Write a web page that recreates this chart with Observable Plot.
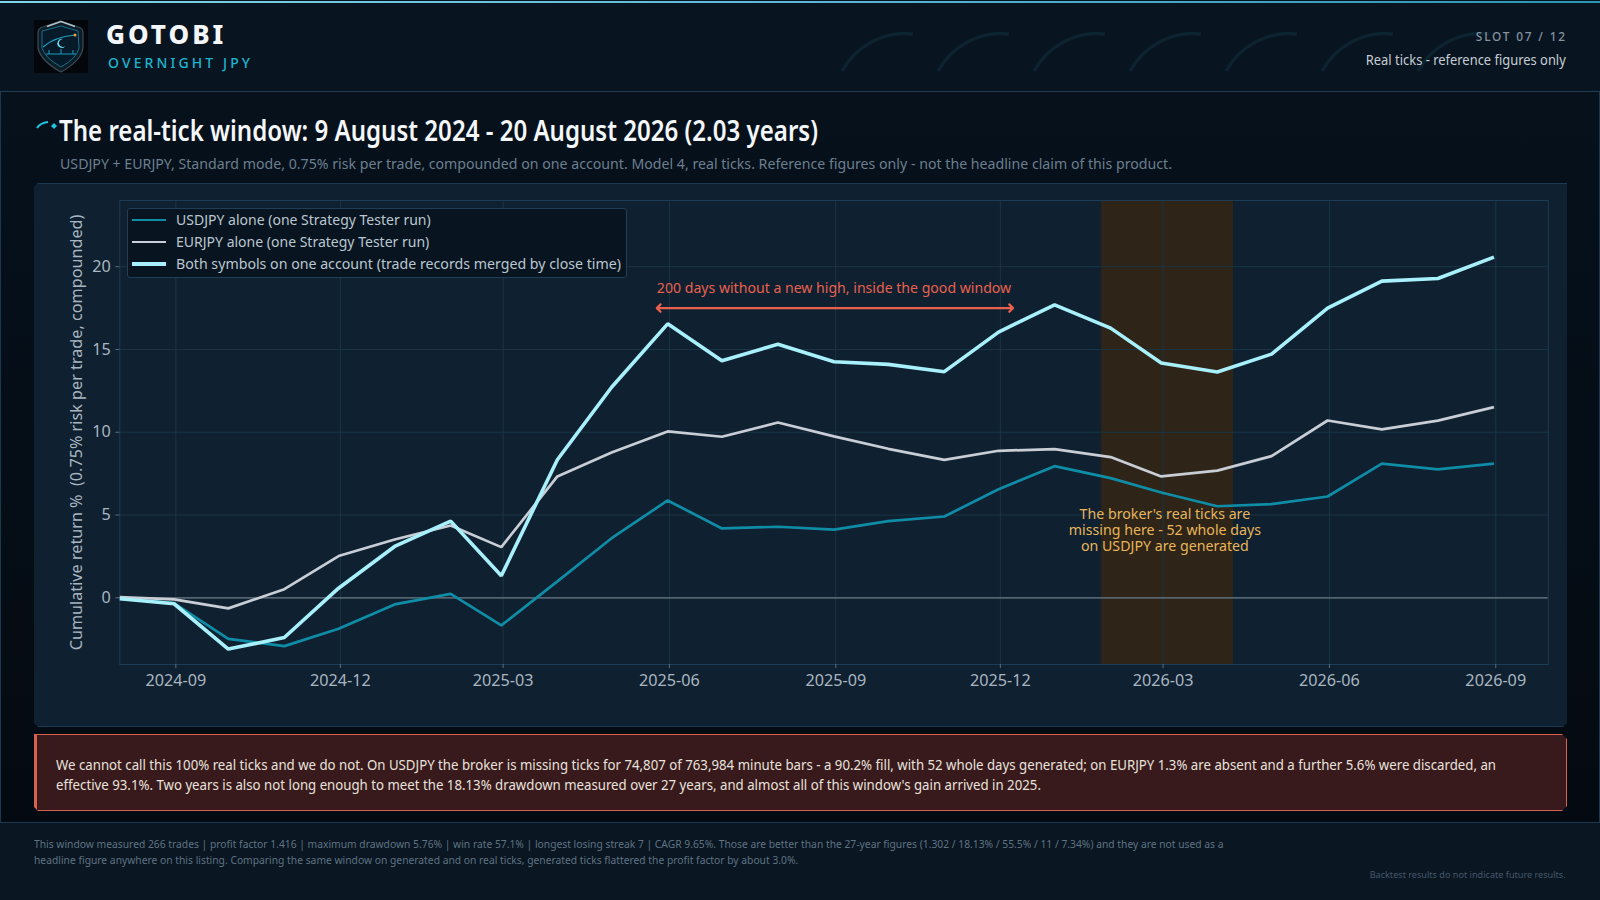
<!DOCTYPE html>
<html><head><meta charset="utf-8">
<script src="https://cdn.jsdelivr.net/npm/d3@7"></script>
<script src="https://cdn.jsdelivr.net/npm/@observablehq/plot@0.6"></script>
<style>
html,body{margin:0;padding:0;background:#0a1621;}
body{width:1600px;height:900px;position:relative;overflow:hidden;font-family:"Noto Sans",sans-serif;}
.a{position:absolute;white-space:nowrap;}
#chart{position:absolute;left:34px;top:183px;width:1533px;height:544px;}
#chart svg{display:block;background:transparent;}
.sw{position:absolute;left:3.5px;width:34px;}
.lt{position:absolute;left:47.5px;font-size:14.5px;color:#bac7d1;white-space:nowrap;line-height:20px;transform-origin:left center;}
</style></head><body>
<div class="a" style="left:0;top:0;width:1600px;height:91px;background:#08141f;border-bottom:1px solid #1f3d55;box-sizing:content-box"></div>
<div class="a" style="left:0;top:1px;width:1600px;height:2px;background:linear-gradient(90deg,#7fd6ea,#5cb8d6 50%,#2a95b5)"></div>
<div class="a" style="left:0;top:92px;width:1598px;height:730px;background:linear-gradient(180deg,#06111c,#040a11);border-left:1px solid #1c3850;border-right:1px solid #1c3850;border-bottom:1px solid #1c3850"></div>

<svg class="a" style="left:34px;top:20px" width="54" height="53" viewBox="0 0 54 53">
<rect width="54" height="53" fill="#03070c"/>
<path d="M27 1 L44 7 Q49 8 49 13 L49 28 Q47 41 27 52 Q7 41 4 28 L4 13 Q4 8 9 7 Z" fill="#0e1c26" stroke="#3a4c58" stroke-width="1.2"/>
<path d="M13 6.5 L27 1.5 L41 6.5" fill="none" stroke="#b4c2cb" stroke-width="1.4"/>
<path d="M27 6 L44 11 L45 28 Q43 38 27 47 Q11 38 8 28 L8 11 Z" fill="#071a2a" stroke="#14708a" stroke-width="1"/>
<path d="M9 27 Q20 17 41 15" fill="none" stroke="#1a9dbd" stroke-width="1.2"/>
<circle cx="41" cy="15" r="1.5" fill="#f0a040"/>
<path d="M29 19 a4.5 4.5 0 1 0 2.5 7 a4 4 0 1 1 -2.5 -7" fill="#6fe0f0"/>
<path d="M12 34 H42 M15 34 V30 M27 34 V29 M39 34 V30" stroke="#1a9dbd" stroke-width="1" fill="none"/>
</svg>
<div class="a" style="left:106px;top:17px;font-size:26px;font-weight:800;letter-spacing:3px;color:#f4f7f9;line-height:34px">GOTOBI</div>
<div class="a" style="left:108px;top:53px;font-size:14px;font-weight:500;letter-spacing:3.1px;color:#1cb5d0;line-height:20px">OVERNIGHT JPY</div>

<svg class="a" style="left:830px;top:25px" width="680" height="55" viewBox="0 0 680 55" fill="none" stroke="#0c2330" stroke-width="3.5">
<path d="M12 46 A72 72 0 0 1 83 9"/><path d="M108 46 A72 72 0 0 1 179 9"/><path d="M204 46 A72 72 0 0 1 275 9"/><path d="M300 46 A72 72 0 0 1 371 9"/><path d="M396 46 A72 72 0 0 1 467 9"/><path d="M492 46 A72 72 0 0 1 563 9"/><path d="M588 46 A72 72 0 0 1 659 9"/>
</svg>
<div class="a" data-fit="91" data-o="right" style="right:33px;top:27px;font-size:13px;font-weight:500;letter-spacing:2px;color:#8493a0;line-height:18px">SLOT 07 / 12</div>
<div class="a" data-fit="200" data-o="right" style="right:34px;top:50px;font-size:14px;color:#c5ced6;line-height:20px">Real ticks - reference figures only</div>

<svg class="a" style="left:35px;top:118px" width="24" height="16" viewBox="0 0 24 16" fill="none">
<path d="M2 10 Q5 5 13 4" stroke="#22c3de" stroke-width="2"/><path d="M19 5 L22 8 L19 11 L16 8 Z" fill="#22c3de"/>
</svg>
<div class="a" data-fit="759" style="left:59px;top:110px;font-size:29px;font-weight:600;color:#f4f7f9;line-height:40px">The real-tick window: 9 August 2024 - 20 August 2026 (2.03 years)</div>
<div class="a" data-fit="1112" style="left:60px;top:153px;font-size:14.5px;color:#6c7f8e;line-height:20px">USDJPY + EURJPY, Standard mode, 0.75% risk per trade, compounded on one account. Model 4, real ticks. Reference figures only - not the headline claim of this product.</div>

<div class="a" style="left:34px;top:183px;width:1533px;height:544px;background:#0f2030;box-sizing:border-box;border-top:1.5px solid #1b3a52;border-bottom:1.5px solid #1b3a52;clip-path:polygon(4px 0,100% 0,100% calc(100% - 4px),calc(100% - 4px) 100%,4px 100%,0 calc(100% - 4px),0 4px)"></div>
<div id="chart"></div>

<div class="a" style="left:127px;top:208px;width:500px;height:70px;box-sizing:border-box;background:#081420;border:1.5px solid #1f3e58;border-radius:3px">
 <div id="legend"></div>
</div>

<div class="a" style="left:34px;top:734px;width:1533px;height:77px;box-sizing:border-box;background:#391a1c;border:1.5px solid #d9604f;border-left:3px solid #d9604f;clip-path:polygon(0 0,calc(100% - 5px) 0,100% 5px,100% calc(100% - 5px),calc(100% - 5px) 100%,4px 100%,0 calc(100% - 4px))">
 <div data-fit="1440" style="position:absolute;left:19px;top:20px;font-size:14px;line-height:20px;color:#e8e2dc;white-space:nowrap">We cannot call this 100% real ticks and we do not. On USDJPY the broker is missing ticks for 74,807 of 763,984 minute bars - a 90.2% fill, with 52 whole days generated; on EURJPY 1.3% are absent and a further 5.6% were discarded, an<br>effective 93.1%. Two years is also not long enough to meet the 18.13% drawdown measured over 27 years, and almost all of this window's gain arrived in 2025.</div>
</div>

<div class="a" data-fit="1189.5" style="left:34px;top:836px;font-size:11px;line-height:16px;color:#5f7383">This window measured 266 trades | profit factor 1.416 | maximum drawdown 5.76% | win rate 57.1% | longest losing streak 7 | CAGR 9.65%. Those are better than the 27-year figures (1.302 / 18.13% / 55.5% / 11 / 7.34%) and they are not used as a<br>headline figure anywhere on this listing. Comparing the same window on generated and on real ticks, generated ticks flattered the profit factor by about 3.0%.</div>
<div class="a" data-fit="196" data-o="right" style="right:34px;top:868px;font-size:9.5px;line-height:14px;color:#46586a">Backtest results do not indicate future results.</div>

<script>
const dates = ["2024-08-01","2024-08-31","2024-09-30","2024-10-31","2024-11-30","2024-12-31","2025-01-31","2025-02-28","2025-03-31","2025-04-30","2025-05-31","2025-06-30","2025-07-31","2025-08-31","2025-09-30","2025-10-31","2025-11-30","2025-12-31","2026-01-31","2026-02-28","2026-03-31","2026-04-30","2026-05-31","2026-06-30","2026-07-31","2026-08-31"];
const usdjpy = [-0.04,-0.32,-2.48,-2.92,-1.87,-0.40,0.24,-1.67,0.99,3.60,5.88,4.19,4.29,4.12,4.63,4.91,6.56,7.95,7.23,6.36,5.53,5.66,6.12,8.10,7.76,8.10];
const eurjpy = [0.04,-0.10,-0.64,0.52,2.52,3.52,4.37,3.06,7.33,8.78,10.05,9.73,10.59,9.75,9.00,8.33,8.88,8.98,8.50,7.33,7.68,8.56,10.71,10.17,10.70,11.52];
const both = [-0.06,-0.36,-3.10,-2.40,0.58,3.10,4.63,1.33,8.34,12.72,16.55,14.32,15.32,14.26,14.10,13.66,16.05,17.70,16.29,14.18,13.64,14.72,17.50,19.13,19.29,20.58];
const xTicks = ["2024-09","2024-12","2025-03","2025-06","2025-09","2025-12","2026-03","2026-06","2026-09"];
const yTicks = [0,5,10,15,20];
const xDomain = ["2024-08-01","2026-09-30"];
const yDomain = [-4.03,24];
const gapWindow = ["2026-01-26","2026-04-09"];
const drought = ["2025-05-25","2025-12-08"];
const droughtMid = "2025-09-01";
const droughtY = 17.5;
const droughtText = "200 days without a new high, inside the good window";
const gapText = "The broker's real ticks are\nmissing here - 52 whole days\non USDJPY are generated";
const yLabel = "Cumulative return %  (0.75% risk per trade, compounded)";
const seriesNames = ["USDJPY alone (one Strategy Tester run)","EURJPY alone (one Strategy Tester run)","Both symbols on one account (trade records merged by close time)"];
const seriesColors = ["#0f8ca6","#c9ced6","#a8f0fb"];
const seriesWidths = [2.7,2.7,3.6];
const legendWidths = [254.7,253.3,445];

const parse = d3.utcParse("%Y-%m-%d");
const parseM = d3.utcParse("%Y-%m");
const table = [usdjpy,eurjpy,both].flatMap((vals,s)=>vals.map((v,i)=>({date:parse(dates[i]),value:v,s})));

const lineMark = s => Plot.line(table.filter(d=>d.s===s),{x:"date",y:"value",stroke:seriesColors[s],strokeWidth:seriesWidths[s],strokeLinejoin:"miter",strokeLinecap:"butt"});
const arrowMark = end => Plot.arrow([end],{x1:()=>parse(droughtMid),x2:d=>parse(d),y1:droughtY,y2:droughtY,stroke:"#e8614f",strokeWidth:2.2,headLength:3.6,headAngle:90});

const plot = Plot.plot({
  width:1533,height:544,
  marginLeft:85.3,marginRight:19.3,marginTop:17,marginBottom:63,
  style:{background:"transparent",fontFamily:"'Noto Sans',sans-serif",fontSize:"15px",overflow:"visible"},
  x:{type:"utc",domain:xDomain.map(parse)},
  y:{domain:yDomain},
  marks:[
    Plot.rectX([gapWindow],{x1:d=>parse(d[0]),x2:d=>parse(d[1]),y1:yDomain[0],y2:yDomain[1],fill:"#2e2417"}),
    Plot.gridX(xTicks.map(parseM),{stroke:"#1a3546",strokeOpacity:1,strokeWidth:1}),
    Plot.gridY(yTicks,{stroke:"#1a3546",strokeOpacity:1,strokeWidth:1}),
    Plot.frame({stroke:"#1d3c55",strokeWidth:1}),
    Plot.ruleY([0],{stroke:"#6b7a85",strokeWidth:1.2}),
    Plot.axisX(xTicks.map(parseM),{tickFormat:d3.utcFormat("%Y-%m"),tickSize:4,tickPadding:6,stroke:"#56707f",color:"#a9b6c0",fontSize:16.2,label:null}),
    Plot.axisY(yTicks,{tickSize:4,tickPadding:5,stroke:"#56707f",color:"#a9b6c0",fontSize:16.2,label:yLabel,labelAnchor:"center",labelArrow:"none",labelOffset:49}),
    lineMark(0),lineMark(1),lineMark(2),
    arrowMark(drought[0]),arrowMark(drought[1]),
    Plot.text([droughtText],{x:parse("2025-08-31"),y:18.7,text:d=>d,fill:"#e8614f",fontSize:14.1,textAnchor:"middle"}),
    Plot.text([gapText],{x:parse("2026-03-02"),y:4.1,text:d=>d,fill:"#e8b55a",fontSize:14.2,textAnchor:"middle",lineHeight:1.12})
  ]
});
document.getElementById("chart").appendChild(plot);

const tops=[11,33,55];
document.getElementById("legend").innerHTML = seriesNames.map((n,i)=>
 `<div class="sw" style="top:${tops[i]-seriesWidths[i]/2}px;height:${seriesWidths[i]}px;background:${seriesColors[i]}"></div><div class="lt" data-fit="${legendWidths[i]}" style="top:${tops[i]-11}px">${n}</div>`).join("");

document.querySelectorAll("[data-fit]").forEach(el=>{
  const w = el.getBoundingClientRect().width;
  el.style.transformOrigin = (el.dataset.o||"left")+" center";
  el.style.transform = `scaleX(${(+el.dataset.fit)/w})`;
});
</script>
</body></html>
